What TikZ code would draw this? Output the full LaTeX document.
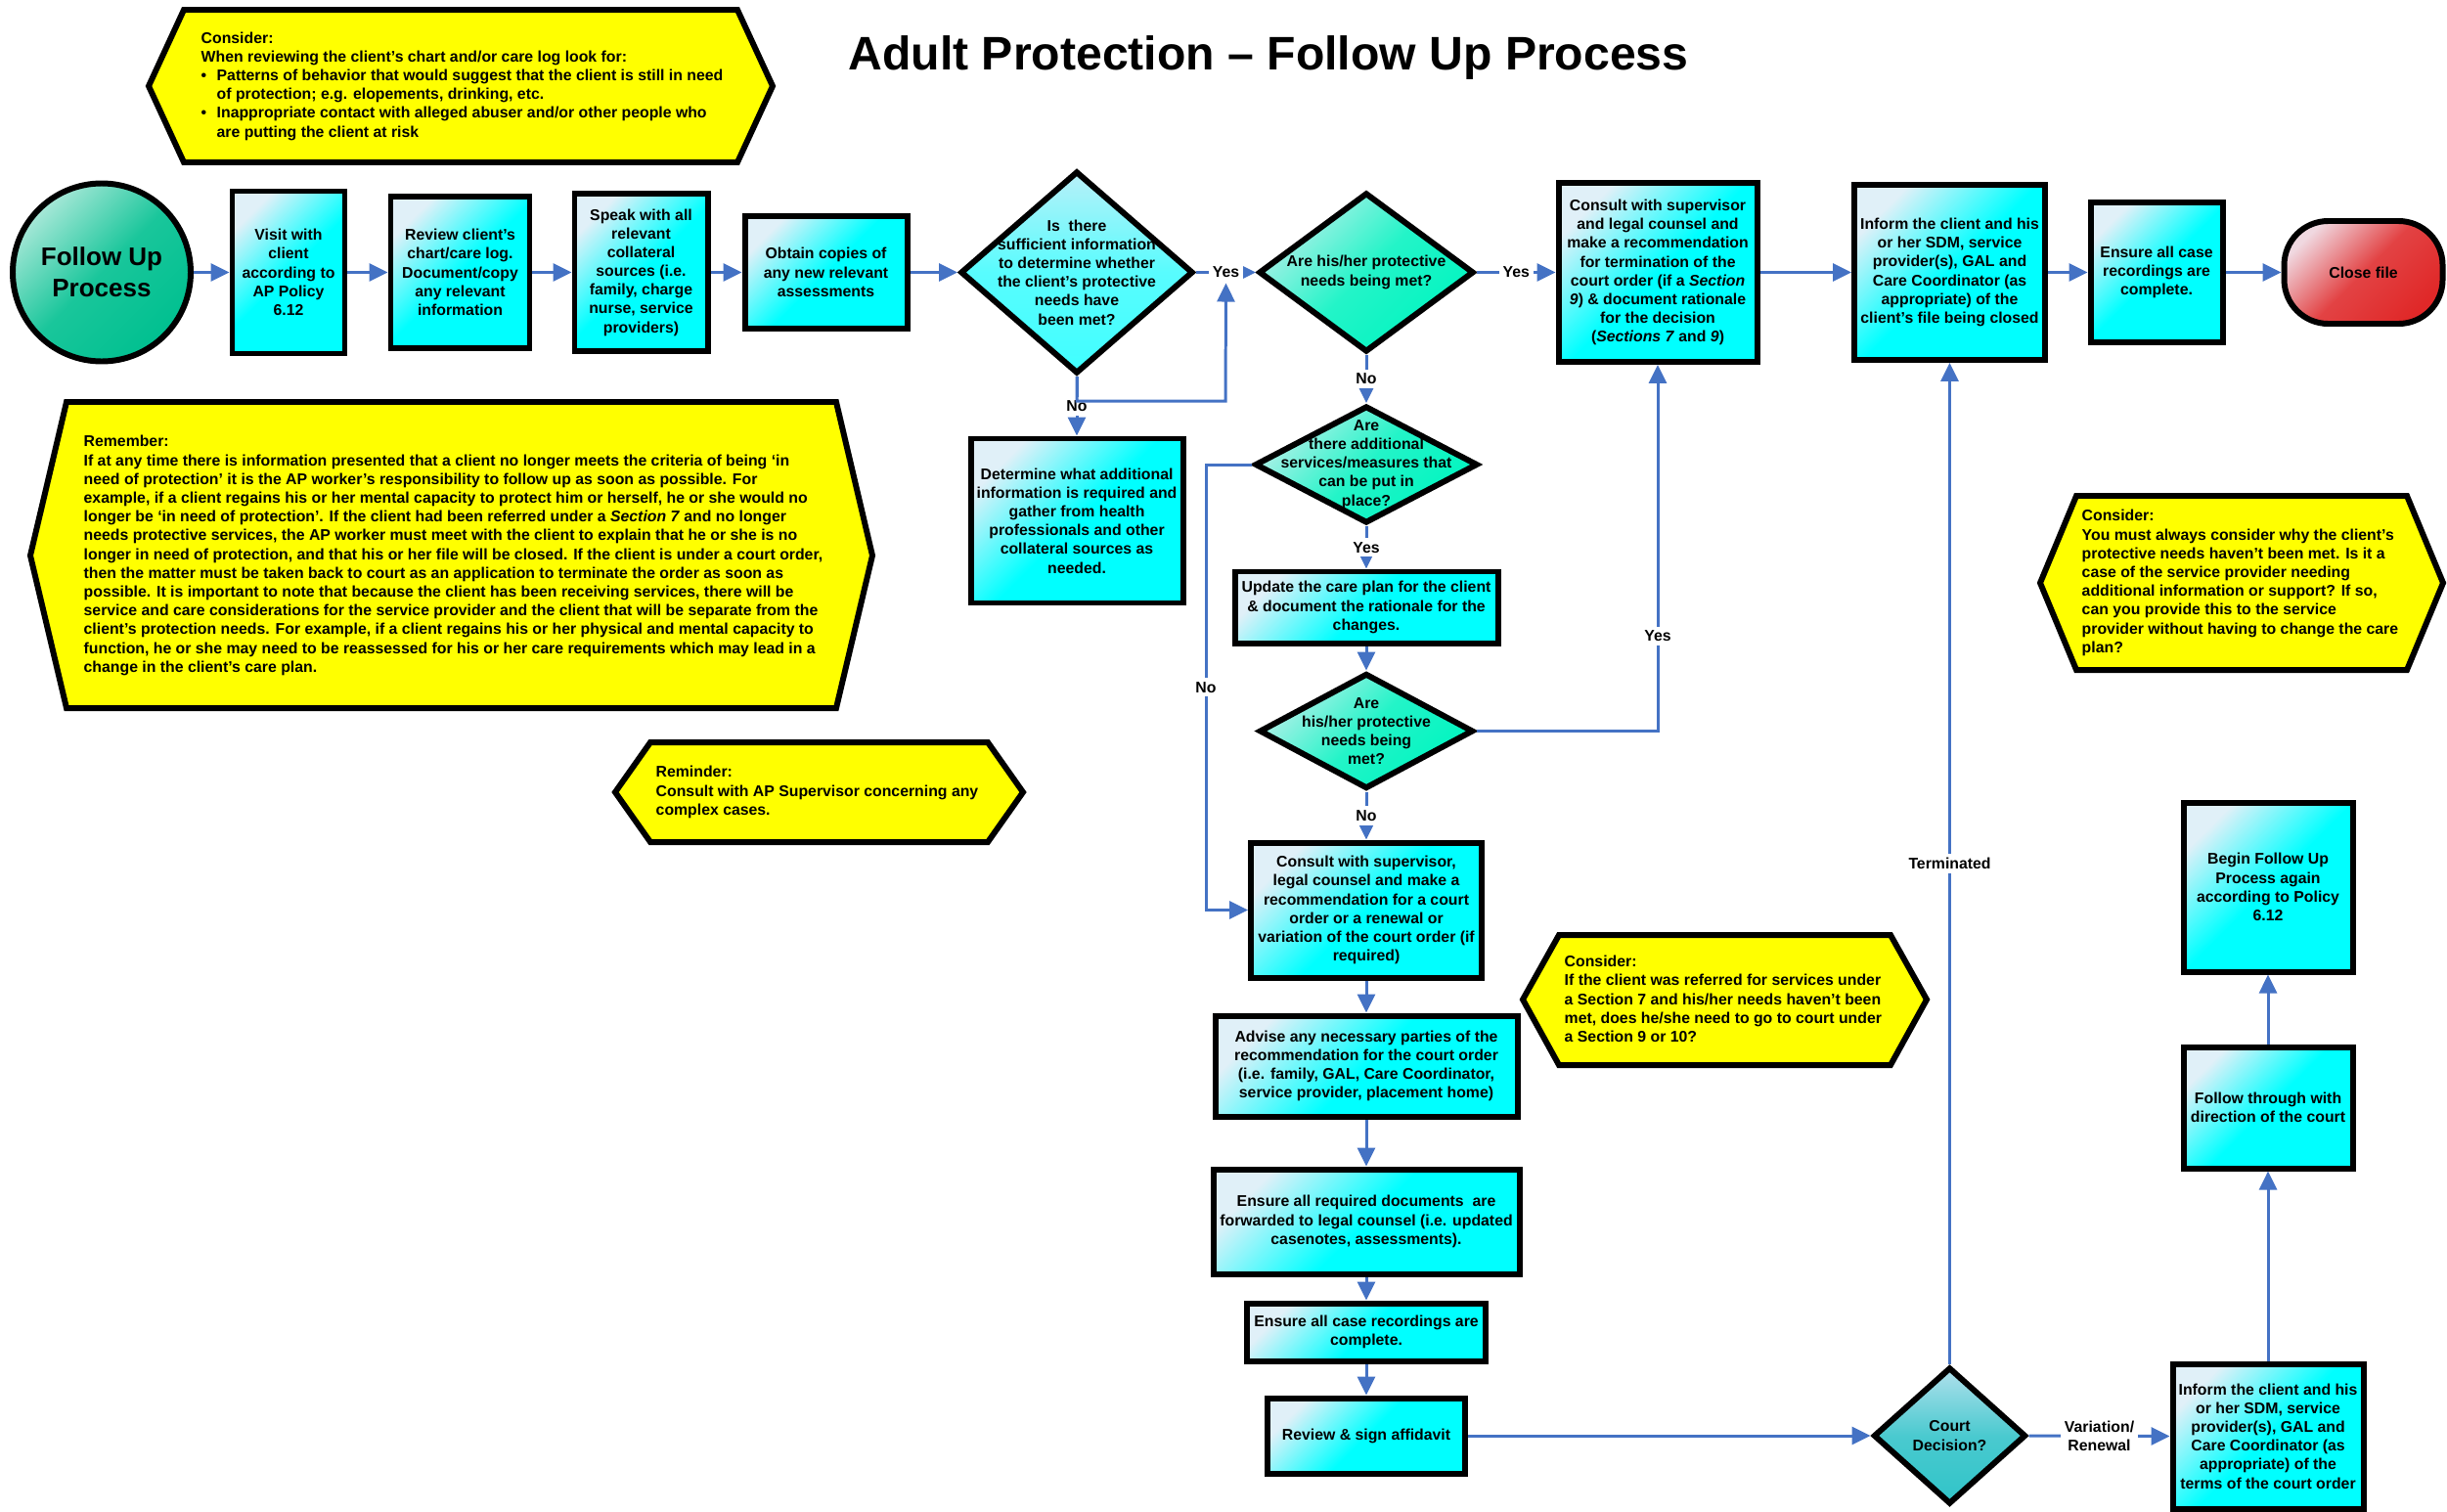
\documentclass[tikz,border=0pt]{standalone}
\usepackage{fontspec}
\setmainfont{Liberation Sans}
\usetikzlibrary{shapes.geometric,arrows.meta}
\definecolor{linkblue}{HTML}{4472C4}
\definecolor{cyanpale}{HTML}{E0F0F8}
\definecolor{cyanfull}{HTML}{00FFFF}
\definecolor{qpale}{HTML}{B8F0F8}
\definecolor{qfull}{HTML}{40FFFF}
\definecolor{mintpale}{HTML}{B0F0E8}
\definecolor{mintfull}{HTML}{00F5C0}
\definecolor{courtpale}{HTML}{B0E0EC}
\definecolor{courtfull}{HTML}{30C4C8}
\definecolor{fupale}{HTML}{A8E8D8}
\definecolor{fufull}{HTML}{00C090}
\definecolor{redpale}{HTML}{F0D8E0}
\definecolor{redfull}{HTML}{E02828}
\definecolor{noteyellow}{HTML}{FFFF00}

\begin{document}
\begin{tikzpicture}
[x=1mm,y=-1mm,%
  every node/.style={inner sep=0pt,align=center,font=\fontsize{4.5}{5.46}\selectfont\bfseries},%
  stepbox/.style={rectangle,draw,line width=1.7pt,top color=cyanpale,bottom color=cyanfull,middle color=cyanfull,shading angle=45},%
  query/.style={diamond,draw,line width=1.7pt,top color=mintpale,bottom color=mintfull,middle color=mintfull!80!mintpale,shading angle=45},%
  notebox/.style={draw,line width=1.7pt,fill=noteyellow},%
  notetext/.style={align=left,anchor=west},%
  link/.style={draw=linkblue,line width=0.85pt,-{Triangle[length=1.9mm,width=1.8mm]}},%
  lbl/.style={fill=white,inner sep=0.4mm}]
\useasboundingbox (0,0) rectangle (250.2,154.5);

\node[font=\fontsize{13.7}{16}\selectfont\bfseries] (title) at (129.7,5.9) {Adult Protection -- Follow Up Process};

\draw[notebox] (15.2,8.8) -- (18.8,1.0) -- (75.4,1.0) -- (79.0,8.8) -- (75.4,16.6) -- (18.8,16.6) -- cycle;
\node[notetext] (consider) at (20.5,8.8) {Consider:\\When reviewing the client’s chart and/or care log look for:\\
  \makebox[1.6mm][l]{•}Patterns of behavior that would suggest that the client is still in need\\
  \hspace*{1.6mm}of protection; e.g. elopements, drinking, etc.\\
  \makebox[1.6mm][l]{•}Inappropriate contact with alleged abuser and/or other people who\\
  \hspace*{1.6mm}are putting the client at risk};

\draw[notebox] (3.1,56.8) -- (6.8,41.1) -- (85.5,41.1) -- (89.2,56.8) -- (85.5,72.4) -- (6.8,72.4) -- cycle;
\node[notetext] (remember) at (8.5,56.8) {Remember:\\
  If at any time there is information presented that a client no longer meets the criteria of being ‘in\\
  need of protection’ it is the AP worker’s responsibility to follow up as soon as possible. For\\
  example, if a client regains his or her mental capacity to protect him or herself, he or she would no\\
  longer be ‘in need of protection’. If the client had been referred under a \textit{Section 7} and no longer\\
  needs protective services, the AP worker must meet with the client to explain that he or she is no\\
  longer in need of protection, and that his or her file will be closed. If the client is under a court order,\\
  then the matter must be taken back to court as an application to terminate the order as soon as\\
  possible. It is important to note that because the client has been receiving services, there will be\\
  service and care considerations for the service provider and the client that will be separate from the\\
  client’s protection needs. For example, if a client regains his or her physical and mental capacity to\\
  function, he or she may need to be reassessed for his or her care requirements which may lead in a\\
  change in the client’s care plan.};

\draw[notebox] (62.9,81.0) -- (66.5,75.9) -- (101.0,75.9) -- (104.6,81.0) -- (101.0,86.1) -- (66.5,86.1) -- cycle;
\node[notetext] (reminder) at (67.0,81.0) {Reminder:\\Consult with AP Supervisor concerning any\\complex cases.};

\draw[notebox] (155.7,102.2) -- (159.4,95.6) -- (193.3,95.6) -- (197.0,102.2) -- (193.3,108.9) -- (159.4,108.9) -- cycle;
\node[notetext] (courtnote) at (159.9,102.15) {Consider:\\If the client was referred for services under\\a Section 7 and his/her needs haven’t been\\met, does he/she need to go to court under\\a Section 9 or 10?};

\draw[notebox] (208.6,59.6) -- (212.3,50.7) -- (246.1,50.7) -- (249.8,59.6) -- (246.1,68.5) -- (212.3,68.5) -- cycle;
\node[notetext] (whynote) at (212.8,59.6) {Consider:\\You must always consider why the client’s\\protective needs haven’t been met. Is it a\\case of the service provider needing\\additional information or support? If so,\\can you provide this to the service\\provider without having to change the care\\plan?};

\node[circle,draw,line width=1.7pt,minimum size=18.2mm,top color=fupale,bottom color=fufull,middle color=fufull!85!fupale,shading angle=45,font=\fontsize{7.4}{9.1}\selectfont\bfseries] (start) at (10.4,27.85) {Follow Up\\Process};
\node[stepbox,minimum width=11.5mm,minimum height=16.6mm] (visit) at (29.5,27.85) {Visit with\\client\\according to\\AP Policy\\6.12};
\node[stepbox,minimum width=14.2mm,minimum height=15.5mm] (review) at (47.05,27.85) {Review client’s\\chart/care log.\\Document/copy\\any relevant\\information};
\node[stepbox,minimum width=13.6mm,minimum height=16.1mm] (speak) at (65.55,27.85) {Speak with all\\relevant\\collateral\\sources (i.e.\\family, charge\\nurse, service\\providers)};
\node[stepbox,minimum width=16.6mm,minimum height=11.5mm] (obtain) at (84.45,27.85) {Obtain copies of\\any new relevant\\assessments};
\node[query,top color=qpale,bottom color=qfull,middle color=qfull!80!qpale,minimum width=23.8mm,minimum height=20.7mm,
  label={center:{Is\ \ there\\sufficient information\\to determine whether\\the client’s protective\\needs have\\been met?}}] (q1) at (110.1,27.85) {};
\node[query,minimum width=22.0mm,minimum height=16.3mm,
  label={center:{Are his/her protective\\needs being met?}}] (q2) at (139.7,27.85) {};
\node[stepbox,minimum width=20.3mm,minimum height=18.3mm] (cterm) at (169.5,27.85) {Consult with supervisor\\and legal counsel and\\make a recommendation\\for termination of the\\court order (if a \textit{Section}\\\textit{9}) \& document rationale\\for the decision\\(\textit{Sections 7} and \textit{9})};
\node[stepbox,minimum width=19.5mm,minimum height=17.9mm] (infoclose) at (199.35,27.85) {Inform the client and his\\or her SDM, service\\provider(s), GAL and\\Care Coordinator (as\\appropriate) of the\\client’s file being closed};
\node[stepbox,minimum width=13.5mm,minimum height=14.3mm] (recs1) at (220.5,27.85) {Ensure all case\\recordings are\\complete.};
\node[rectangle,rounded corners=4.5mm,draw,line width=1.7pt,minimum width=16.2mm,minimum height=10.5mm,top color=redpale,bottom color=redfull,middle color=redfull!85!redpale,shading angle=45] (closefile) at (241.65,27.85) {Close file};

\node[stepbox,minimum width=21.7mm,minimum height=16.8mm] (gather) at (110.1,53.25) {Determine what additional\\information is required and\\gather from health\\professionals and other\\collateral sources as\\needed.};
\node[query,minimum width=22.8mm,minimum height=12.0mm,
  label={center:{Are\\there additional\\services/measures that\\can be put in\\place?}}] (q3) at (139.7,47.5) {};
\node[stepbox,minimum width=26.9mm,minimum height=7.3mm] (update) at (139.7,62.1) {Update the care plan for the client\\\& document the rationale for the\\changes.};
\node[query,minimum width=21.9mm,minimum height=11.8mm,
  label={center:{Are\\his/her protective\\needs being\\met?}}] (q4) at (139.7,74.75) {};
\node[stepbox,minimum width=23.6mm,minimum height=13.8mm] (ccourt) at (139.7,93.05) {Consult with supervisor,\\legal counsel and make a\\recommendation for a court\\order or a renewal or\\variation of the court order (if\\required)};
\node[stepbox,minimum width=30.9mm,minimum height=10.3mm] (advise) at (139.7,109.0) {Advise any necessary parties of the\\recommendation for the court order\\(i.e. family, GAL, Care Coordinator,\\service provider, placement home)};
\node[stepbox,minimum width=31.3mm,minimum height=10.7mm] (docs) at (139.7,124.9) {Ensure all required documents\ \ are\\forwarded to legal counsel (i.e. updated\\casenotes, assessments).};
\node[stepbox,minimum width=24.4mm,minimum height=5.9mm] (recs2) at (139.7,136.2) {Ensure all case recordings are\\complete.};
\node[stepbox,minimum width=20.2mm,minimum height=7.7mm] (affidavit) at (139.7,146.8) {Review \& sign affidavit};
\node[query,top color=courtpale,bottom color=courtfull,middle color=courtfull!80!courtpale,minimum width=15.6mm,minimum height=14.0mm,
  label={center:{Court\\Decision?}}] (court) at (199.35,146.8) {};
\node[stepbox,minimum width=19.5mm,minimum height=14.8mm] (inforder) at (231.9,146.85) {Inform the client and his\\or her SDM, service\\provider(s), GAL and\\Care Coordinator (as\\appropriate) of the\\terms of the court order};
\node[stepbox,minimum width=17.3mm,minimum height=12.4mm] (follow) at (231.9,113.25) {Follow through with\\direction of the court};
\node[stepbox,minimum width=17.3mm,minimum height=17.3mm] (restart) at (231.9,90.7) {Begin Follow Up\\Process again\\according to Policy\\6.12};

\draw[link] (start) -- (visit);
\draw[link] (visit) -- (review);
\draw[link] (review) -- (speak);
\draw[link] (speak) -- (obtain);
\draw[link] (obtain) -- (q1);
\draw[link] (q1.east) -- node[lbl] (yes1) {Yes} (q2.west);
\draw[link] (q2.east) -- node[lbl] {Yes} (cterm.west);
\draw[link] (cterm) -- (infoclose);
\draw[link] (infoclose) -- (recs1);
\draw[link] (recs1) -- (closefile);
\draw[link] (q1.south) -- node[lbl] {No} (gather.north);
\coordinate (loopc) at (125.3,41.0);
\draw[link] (q1.south) |- (loopc) -- (yes1.south);
\draw[link] (q2.south) -- node[lbl] {No} (q3.north);
\draw[link] (q3.south) -- node[lbl] {Yes} (update.north);
\draw[link] (q3.west) -- ++(-4.7,0) |- node[lbl,pos=0.25] {No} (ccourt.west);
\draw[link] (update) -- (q4);
\draw[link] (q4.east) -| node[lbl,pos=0.63] {Yes} (cterm.south);
\draw[link] (q4.south) -- node[lbl] {No} (ccourt.north);
\draw[link] (ccourt) -- (advise);
\draw[link] (advise) -- (docs);
\draw[link] (docs) -- (recs2);
\draw[link] (recs2) -- (affidavit);
\draw[link] (affidavit) -- (court);
\draw[link] (court.north) -- node[lbl] {Terminated} (infoclose.south);
\draw[link] (court.east) -- node[lbl] {Variation/\\Renewal} (inforder.west);
\draw[link] (inforder) -- (follow);
\draw[link] (follow) -- (restart);
\end{tikzpicture}
\end{document}
